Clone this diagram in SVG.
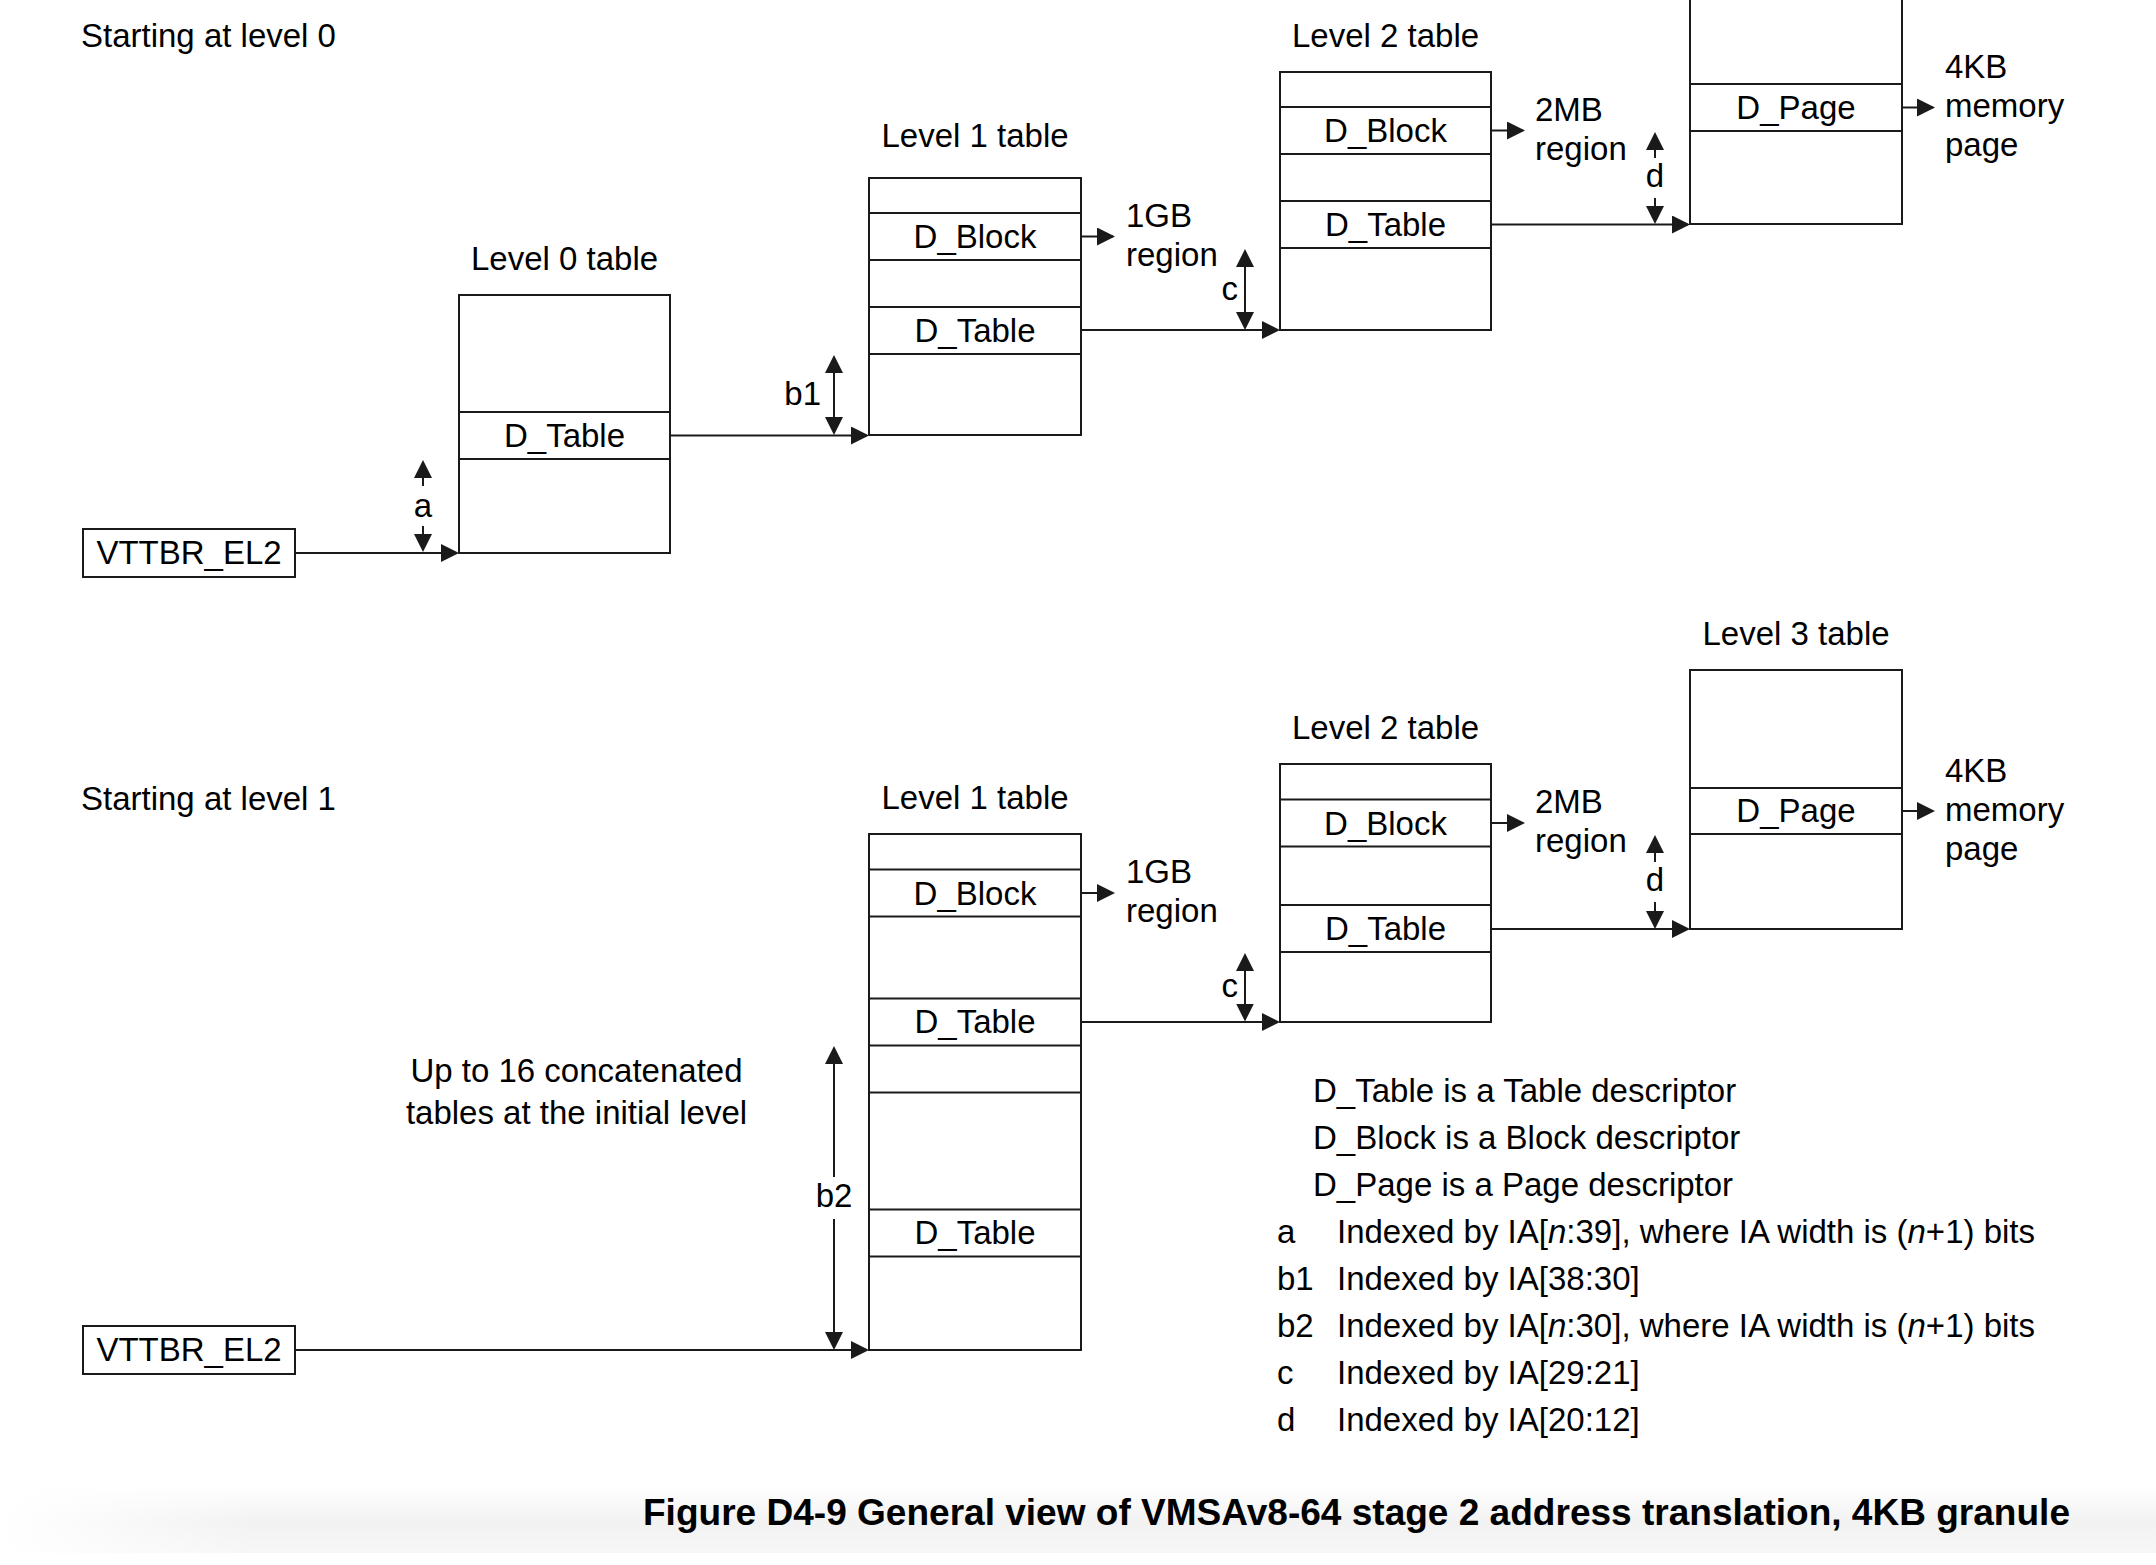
<svg xmlns="http://www.w3.org/2000/svg" width="2156" height="1565" viewBox="0 0 2156 1565">
<defs>
<style>
.box{fill:#fff;stroke:#1a1a1a;stroke-width:2}
.sep{stroke:#1a1a1a;stroke-width:2;fill:none}
.ln{stroke:#1a1a1a;stroke-width:2;fill:none;marker-end:url(#ah)}
.dbl{stroke:#1a1a1a;stroke-width:2;fill:none;marker-start:url(#ah);marker-end:url(#ah)}
.t{font-family:"Liberation Sans",Arial,Helvetica,sans-serif;font-size:33px;fill:#000}
.r{font-size:33px}
.c{text-anchor:middle}
.e{text-anchor:end}
.cap{font-family:"Liberation Sans",Arial,Helvetica,sans-serif;font-size:37px;font-weight:bold;fill:#000}
</style>
<marker id="ah" viewBox="0 0 18 18" refX="16" refY="9" markerWidth="18" markerHeight="18" markerUnits="userSpaceOnUse" orient="auto-start-reverse">
<path d="M0,0 L18,9 L0,18 z" fill="#1a1a1a"/>
</marker>
<linearGradient id="band" x1="0" y1="0" x2="0" y2="1">
<stop offset="0" stop-color="#ffffff"/>
<stop offset="0.55" stop-color="#f2f2f2"/>
<stop offset="1" stop-color="#f7f7f7"/>
</linearGradient>
<linearGradient id="fade" x1="0" y1="0" x2="1" y2="0">
<stop offset="0" stop-color="#ffffff" stop-opacity="1"/>
<stop offset="0.12" stop-color="#ffffff" stop-opacity="0"/>
</linearGradient>
</defs>
<rect x="0" y="0" width="2156" height="1565" fill="#fff"/>
<rect x="0" y="1485" width="2156" height="68" fill="url(#band)"/>
<rect x="0" y="1485" width="2156" height="68" fill="url(#fade)"/>

<!-- Top: starting at level 0 -->
<text class="t" x="81" y="47">Starting at level 0</text>

<g id="vttbr-top">
<rect class="box" x="83" y="529" width="212" height="48"/>
<text class="t c" x="189" y="564">VTTBR_EL2</text>
</g>

<g id="l0-table">
<text class="t c" x="564.5" y="270">Level 0 table</text>
<rect class="box" x="459" y="295" width="211" height="258"/>
<path class="sep" d="M459,412 H670 M459,459 H670"/>
<text class="t r c" x="564.5" y="447">D_Table</text>
</g>

<g id="l1-table-top">
<text class="t c" x="975" y="147">Level 1 table</text>
<rect class="box" x="869" y="178" width="212" height="257"/>
<path class="sep" d="M869,213 H1081 M869,260 H1081 M869,307 H1081 M869,354 H1081"/>
<text class="t r c" x="975" y="248">D_Block</text>
<text class="t r c" x="975" y="342">D_Table</text>
</g>

<g id="l2-table-top">
<text class="t c" x="1385.5" y="47">Level 2 table</text>
<rect class="box" x="1280" y="72" width="211" height="258"/>
<path class="sep" d="M1280,107 H1491 M1280,154 H1491 M1280,201 H1491 M1280,248 H1491"/>
<text class="t r c" x="1385.5" y="142">D_Block</text>
<text class="t r c" x="1385.5" y="236">D_Table</text>
</g>

<g id="l3-table-top">
<rect class="box" x="1690" y="-35" width="212" height="259"/>
<path class="sep" d="M1690,84 H1902 M1690,131 H1902"/>
<text class="t r c" x="1796" y="119">D_Page</text>
</g>

<g id="labels-top">
<text class="t" x="1126" y="227">1GB</text>
<text class="t" x="1126" y="266">region</text>
<text class="t" x="1535" y="121">2MB</text>
<text class="t" x="1535" y="160">region</text>
<text class="t" x="1945" y="78">4KB</text>
<text class="t" x="1945" y="117">memory</text>
<text class="t" x="1945" y="156">page</text>
<text class="t c" x="423" y="517">a</text>
<text class="t e" x="821" y="405">b1</text>
<text class="t e" x="1238" y="300">c</text>
<text class="t c" x="1655" y="187">d</text>
</g>

<!-- Bottom: starting at level 1 -->
<text class="t" x="81" y="810">Starting at level 1</text>

<g id="vttbr-bottom">
<rect class="box" x="83" y="1326" width="212" height="48"/>
<text class="t c" x="189" y="1361">VTTBR_EL2</text>
</g>

<g id="concat-note">
<text class="t c" x="576.5" y="1082">Up to 16 concatenated</text>
<text class="t c" x="576.5" y="1124">tables at the initial level</text>
</g>

<g id="l1-table-bottom">
<text class="t c" x="975" y="809">Level 1 table</text>
<rect class="box" x="869" y="834" width="212" height="516"/>
<path class="sep" d="M869,869.5 H1081 M869,916.5 H1081 M869,998.5 H1081 M869,1045.5 H1081 M869,1092.5 H1081 M869,1209.5 H1081 M869,1256.5 H1081"/>
<text class="t r c" x="975" y="905">D_Block</text>
<text class="t r c" x="975" y="1033">D_Table</text>
<text class="t r c" x="975" y="1244">D_Table</text>
</g>

<g id="l2-table-bottom">
<text class="t c" x="1385.5" y="739">Level 2 table</text>
<rect class="box" x="1280" y="764" width="211" height="258"/>
<path class="sep" d="M1280,799.5 H1491 M1280,846.5 H1491 M1280,905 H1491 M1280,952 H1491"/>
<text class="t r c" x="1385.5" y="834.5">D_Block</text>
<text class="t r c" x="1385.5" y="940">D_Table</text>
</g>

<g id="l3-table-bottom">
<text class="t c" x="1796" y="645">Level 3 table</text>
<rect class="box" x="1690" y="670" width="212" height="259"/>
<path class="sep" d="M1690,788 H1902 M1690,834 H1902"/>
<text class="t r c" x="1796" y="822">D_Page</text>
</g>

<g id="labels-bottom">
<text class="t" x="1126" y="883">1GB</text>
<text class="t" x="1126" y="922">region</text>
<text class="t" x="1535" y="813">2MB</text>
<text class="t" x="1535" y="852">region</text>
<text class="t" x="1945" y="781.5">4KB</text>
<text class="t" x="1945" y="820.5">memory</text>
<text class="t" x="1945" y="859.5">page</text>
<text class="t c" x="834" y="1207">b2</text>
<text class="t e" x="1238" y="997">c</text>
<text class="t c" x="1655" y="891">d</text>
</g>

<g id="connectors">
<!-- top -->
<path class="ln" d="M295,553 H457"/>
<path class="ln" d="M423,486 V462"/>
<path class="ln" d="M423,526 V550"/>
<path class="ln" d="M670,435.5 H867"/>
<path class="dbl" d="M834,357 V433"/>
<path class="ln" d="M1081,236.5 H1113"/>
<path class="dbl" d="M1245,251 V328"/>
<path class="ln" d="M1081,330 H1278"/>
<path class="ln" d="M1491,130.5 H1523"/>
<path class="ln" d="M1655,158 V134"/>
<path class="ln" d="M1655,198 V222"/>
<path class="ln" d="M1491,224.5 H1688"/>
<path class="ln" d="M1902,107.5 H1933"/>
<!-- bottom -->
<path class="ln" d="M295,1350 H867"/>
<path class="ln" d="M834,1177 V1048"/>
<path class="ln" d="M834,1219 V1348"/>
<path class="ln" d="M1081,893 H1113"/>
<path class="dbl" d="M1245,955 V1019.5"/>
<path class="ln" d="M1081,1022 H1278"/>
<path class="ln" d="M1491,823 H1523"/>
<path class="ln" d="M1655,862 V837"/>
<path class="ln" d="M1655,902 V927"/>
<path class="ln" d="M1491,929 H1688"/>
<path class="ln" d="M1902,811 H1933"/>
</g>

<g id="legend">
<text class="t" x="1313" y="1102">D_Table is a Table descriptor</text>
<text class="t" x="1313" y="1149">D_Block is a Block descriptor</text>
<text class="t" x="1313" y="1196">D_Page is a Page descriptor</text>
<text class="t" x="1277" y="1243">a</text>
<text class="t" x="1337" y="1243">Indexed by IA[<tspan font-style="italic">n</tspan>:39], where IA width is (<tspan font-style="italic">n</tspan>+1) bits</text>
<text class="t" x="1277" y="1290">b1</text>
<text class="t" x="1337" y="1290">Indexed by IA[38:30]</text>
<text class="t" x="1277" y="1337">b2</text>
<text class="t" x="1337" y="1337">Indexed by IA[<tspan font-style="italic">n</tspan>:30], where IA width is (<tspan font-style="italic">n</tspan>+1) bits</text>
<text class="t" x="1277" y="1384">c</text>
<text class="t" x="1337" y="1384">Indexed by IA[29:21]</text>
<text class="t" x="1277" y="1431">d</text>
<text class="t" x="1337" y="1431">Indexed by IA[20:12]</text>
</g>

<text class="cap" x="643" y="1525" textLength="1427" lengthAdjust="spacingAndGlyphs">Figure D4-9 General view of VMSAv8-64 stage 2 address translation, 4KB granule</text>
</svg>
